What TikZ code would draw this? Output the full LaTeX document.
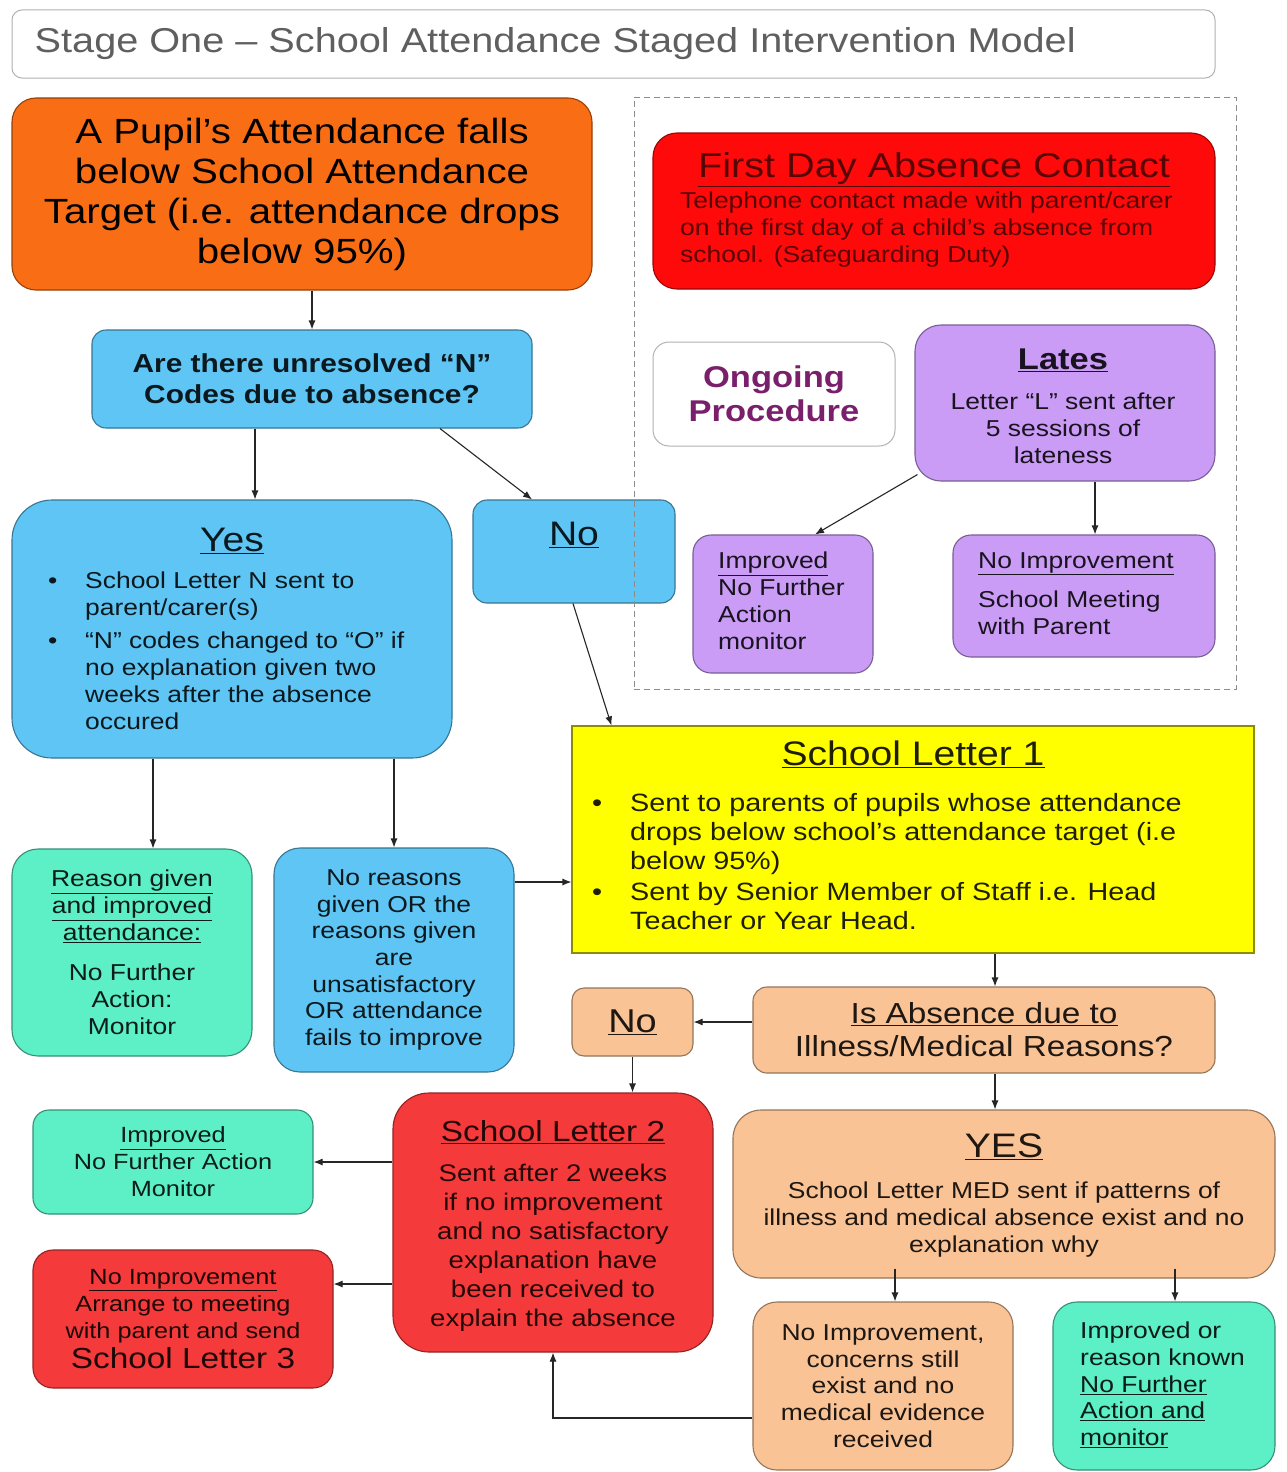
\documentclass[tikz,border=0pt]{standalone}
\usepackage{fontspec}
\setmainfont{Liberation Sans}[FakeStretch=1.15]
\usepackage{xcolor}
\usepackage{tikz}
\usetikzlibrary{arrows.meta, positioning, calc}
\definecolor{attorange}{HTML}{F96D14}
\definecolor{attblue}{HTML}{5EC5F4}
\definecolor{attred}{HTML}{FF0A0A}
\definecolor{attredlight}{HTML}{F43A3A}
\definecolor{attpurple}{HTML}{CA9CF6}
\definecolor{attyellow}{HTML}{FFFF00}
\definecolor{attpeach}{HTML}{F9C395}
\definecolor{attgreen}{HTML}{5DEFC6}
\definecolor{attplum}{HTML}{7A1F6C}
\definecolor{attgray}{HTML}{5F5F5F}
\newcommand{\fsz}[2]{\fontsize{#1}{#2}\selectfont}
\newcommand{\attbullet}[2][43pt]{\makebox[#1][l]{\hspace{6pt}\textbullet}\begin{tabular}[t]{@{}l@{}}#2\end{tabular}}

\begin{document}
\begin{tikzpicture}[
  x=1pt, y=-1pt,
  attbox/.style={rectangle, rounded corners=16pt, draw=#1!60!black, fill=#1, text=#1!12!black, line width=1.1pt, inner sep=0pt, align=center},
  flow/.style={-{Latex[length=9pt,width=7pt]}, line width=1.1pt, draw=black!85},
  boxtitle/.style={font=\fsz{34}{38}, inner sep=0pt},
  boxtext/.style={font=\fsz{23}{27}, inner sep=0pt, align=center}
]
  \useasboundingbox (0,0) rectangle (1287,1472);
  \fill[white] (0,0) rectangle (1287,1472);

  % Title bar
  \node[rectangle, rounded corners=10pt, draw=black!30, fill=white, line width=1pt, minimum width=1203pt, minimum height=68pt] (title) at (613.5,44) {};
  \node[anchor=west, inner sep=0pt, font=\fsz{34.5}{38}, text=attgray] (titletext) at ([xshift=23pt]title.west) {Stage One – School Attendance Staged Intervention Model};

  % Attendance target and N codes question
  \node[attbox=attorange, rounded corners=24pt, minimum width=580pt, minimum height=192pt, font=\fsz{35}{40}, text=black] (target) at (302,194) {A Pupil's Attendance falls\\below School Attendance\\Target (i.e. attendance drops\\below 95\%)};
  \node[attbox=attblue, rounded corners=14pt, minimum width=440pt, minimum height=98pt, font=\bfseries\fsz{26}{31}] (unresolved) at (312,379) {Are there unresolved “N”\\Codes due to absence?};

  % Yes branch
  \node[attbox=attblue, rounded corners=40pt, minimum width=440pt, minimum height=258pt] (yes) at (232,629) {};
  \node[boxtitle, text=attblue!12!black] (yestitle) at (232,541) {\underline{Yes}};
  \node[anchor=north west, inner sep=0pt, align=left, font=\fsz{23}{27}, text=attblue!12!black] (yestext) at (42,569) {\attbullet{School Letter N sent to\\parent/carer(s)}\\[5pt]\attbullet{“N” codes changed to “O” if\\no explanation given two\\weeks after the absence\\occured}};

  % No branch
  \node[attbox=attblue, rounded corners=14pt, minimum width=202pt, minimum height=103pt] (no) at (574,551.5) {};
  \node[boxtitle, text=attblue!12!black] (notitle) at (574,535) {\underline{No}};

  % Ongoing procedure area
  \node[rectangle, draw=black!45, dash pattern=on 6pt off 4pt, line width=1pt, minimum width=602pt, minimum height=592pt] (ongoingarea) at (935,393) {};
  \node[attbox=attred, rounded corners=24pt, minimum width=562pt, minimum height=156pt] (firstday) at (934,211) {};
  \node[boxtitle, font=\fsz{34.5}{38}, text=attred!35!black] (firstdaytitle) at (934,170) {\underline{First Day Absence Contact}};
  \node[anchor=north west, inner sep=0pt, align=left, font=\fsz{23}{27}, text=attred!35!black] (firstdaytext) at (680,192) {Telephone contact made with parent/carer\\on the first day of a child's absence from\\school.  (Safeguarding Duty)};
  \node[rectangle, rounded corners=16pt, draw=black!30, fill=white, line width=1pt, minimum width=242pt, minimum height=104pt, font=\bfseries\fsz{30}{34}, text=attplum, align=center] (ongoing) at (774,394) {Ongoing\\Procedure};
  \node[attbox=attpurple, rounded corners=26pt, minimum width=300pt, minimum height=156pt] (lates) at (1065,403) {};
  \node[font=\bfseries\fsz{30}{34}, inner sep=0pt, text=attpurple!12!black] (latestitle) at (1063,360) {\underline{Lates}};
  \node[boxtext, text=attpurple!12!black] (latestext) at (1063,428) {Letter “L” sent after\\5 sessions of\\lateness};
  \node[attbox=attpurple, rounded corners=18pt, minimum width=180pt, minimum height=138pt] (latesimproved) at (783,604) {};
  \node[anchor=north west, inner sep=0pt, align=left, font=\fsz{23}{27}, text=attpurple!12!black] (latesimprovedtext) at (718,552) {\underline{Improved}\\No Further\\Action\\monitor};
  \node[attbox=attpurple, rounded corners=18pt, minimum width=262pt, minimum height=122pt] (latesnoimp) at (1084,596) {};
  \node[anchor=north west, inner sep=0pt, align=left, font=\fsz{23}{27}, text=attpurple!12!black] (latesnoimptext) at (978,552) {\underline{No Improvement}\\[12pt]School Meeting\\with Parent};

  % School letter 1
  \node[rectangle, draw=attyellow!55!black, fill=attyellow, line width=1.1pt, minimum width=682pt, minimum height=227pt] (letterone) at (913,839.5) {};
  \node[boxtitle, text=attyellow!12!black] (letteronetitle) at (913,754) {\underline{School Letter 1}};
  \node[anchor=north west, inner sep=0pt, align=left, font=\fsz{25}{29}, text=attyellow!12!black] (letteronetext) at (586,791) {\attbullet[44pt]{Sent to parents of pupils whose attendance\\drops below school's attendance target (i.e\\below 95\%)}\\[1pt]\attbullet[44pt]{Sent by Senior Member of Staff i.e. Head\\Teacher or Year Head.}};

  % Reasons after the Yes box
  \node[attbox=attgreen, rounded corners=26pt, minimum width=240pt, minimum height=207pt, font=\fsz{23}{27}] (reason) at (132,952.5) {\underline{Reason given}\\\underline{and improved}\\\underline{attendance:}\\[13pt]No Further\\Action:\\Monitor};
  \node[attbox=attblue, rounded corners=26pt, minimum width=240pt, minimum height=224pt, font=\fsz{23}{26.7}] (noreason) at (394,960) {No reasons\\given OR the\\reasons given\\are\\unsatisfactory\\OR attendance\\fails to improve};

  % Illness question
  \node[attbox=attpeach, rounded corners=14pt, minimum width=462pt, minimum height=86pt, font=\fsz{29}{33}] (illness) at (984,1030) {\underline{Is Absence due to}\\Illness/Medical Reasons?};
  \node[attbox=attpeach, rounded corners=12pt, minimum width=121pt, minimum height=68pt, font=\fsz{33}{37}] (illno) at (632.5,1022) {\underline{No}};

  % School letter 2
  \node[attbox=attredlight, rounded corners=36pt, minimum width=320pt, minimum height=259pt] (lettertwo) at (553,1222.5) {};
  \node[boxtitle, font=\fsz{29}{33}, text=attredlight!15!black] (lettertwotitle) at (553,1132) {\underline{School Letter 2}};
  \node[boxtext, font=\fsz{24}{29}, text=attredlight!15!black] (lettertwotext) at (553,1248) {Sent after 2 weeks\\if no improvement\\and no satisfactory\\explanation have\\been received to\\explain the absence};
  \node[attbox=attgreen, rounded corners=16pt, minimum width=280pt, minimum height=104pt, font=\fsz{22}{27}] (twoimproved) at (173,1162) {\underline{Improved}\\No Further Action\\Monitor};
  \node[attbox=attredlight, rounded corners=20pt, minimum width=300pt, minimum height=138pt, font=\fsz{22}{27}] (twonoimp) at (183,1319) {\underline{No Improvement}\\Arrange to meeting\\with parent and send\\[3pt]{\fsz{29}{33}School Letter 3}};

  % Illness yes
  \node[attbox=attpeach, rounded corners=28pt, minimum width=542pt, minimum height=168pt] (illyes) at (1004,1194) {};
  \node[boxtitle, text=attpeach!12!black] (illyestitle) at (1004,1147) {\underline{YES}};
  \node[boxtext, text=attpeach!12!black] (illyestext) at (1004,1220) {School Letter MED sent if patterns of\\illness and medical absence exist and no\\explanation why};
  \node[attbox=attpeach, rounded corners=24pt, minimum width=260pt, minimum height=168pt, font=\fsz{23}{26.7}] (illnoimp) at (883,1386) {No Improvement,\\concerns still\\exist and no\\medical evidence\\received};
  \node[attbox=attgreen, rounded corners=24pt, minimum width=222pt, minimum height=168pt] (illimproved) at (1164,1386) {};
  \node[anchor=north west, inner sep=0pt, align=left, font=\fsz{23}{26.7}, text=attgreen!12!black] (illimprovedtext) at (1080,1322) {Improved or\\reason known\\\underline{No Further}\\\underline{Action and}\\\underline{monitor}};

  % Connections
  \coordinate (unresyes) at ([xshift=-57pt]unresolved.south);
  \coordinate (yesleft) at ([xshift=-79pt]yes.south);
  \coordinate (noreasonout) at ([yshift=78pt]noreason.east);
  \coordinate (latesright) at ([xshift=30pt]lates.south);
  \coordinate (letteroneout) at ([xshift=82pt]letterone.south);
  \coordinate (illnessout) at ([xshift=11pt]illness.south);
  \coordinate (twonoimpin) at ([yshift=35pt]twonoimp.east);
  \coordinate (illyesleft) at ([xshift=-109pt,yshift=10pt]illyes.south);
  \coordinate (illyesright) at ([xshift=171pt,yshift=10pt]illyes.south);
  \draw[flow] (unresolved.north |- target.south) -- (unresolved.north);
  \draw[flow] (unresyes) -- (unresyes |- yes.north);
  \draw[flow] ([xshift=128pt]unresolved.south) -- ([xshift=-42pt]no.north);
  \draw[flow] ([xshift=-1pt]no.south) -- ([xshift=40pt]letterone.north west);
  \draw[flow] (yesleft) -- (yesleft |- reason.north);
  \draw[flow] (noreason.north |- yes.south) -- (noreason.north);
  \draw[flow] (noreasonout) -- (noreasonout -| letterone.west);
  \draw[flow] ([xshift=3pt,yshift=7pt]lates.south west) -- ([xshift=32pt]latesimproved.north);
  \draw[flow] (latesright) -- (latesright |- latesnoimp.north);
  \draw[flow] (letteroneout) -- (letteroneout |- illness.north);
  \draw[flow] (illness.west |- illno) -- (illno.east);
  \draw[flow] (illno.south) -- (illno.south |- lettertwo.north);
  \draw[flow] (illnessout) -- (illnessout |- illyes.north);
  \draw[flow] (lettertwo.west |- twoimproved) -- (twoimproved.east);
  \draw[flow] (twonoimpin -| lettertwo.west) -- (twonoimpin);
  \draw[flow] (illyesleft) -- (illyesleft |- illnoimp.north);
  \draw[flow] (illyesright) -- (illyesright |- illimproved.north);
  \draw[flow] ([yshift=-32pt]illnoimp.west) -| (lettertwo.south);
\end{tikzpicture}
\end{document}
